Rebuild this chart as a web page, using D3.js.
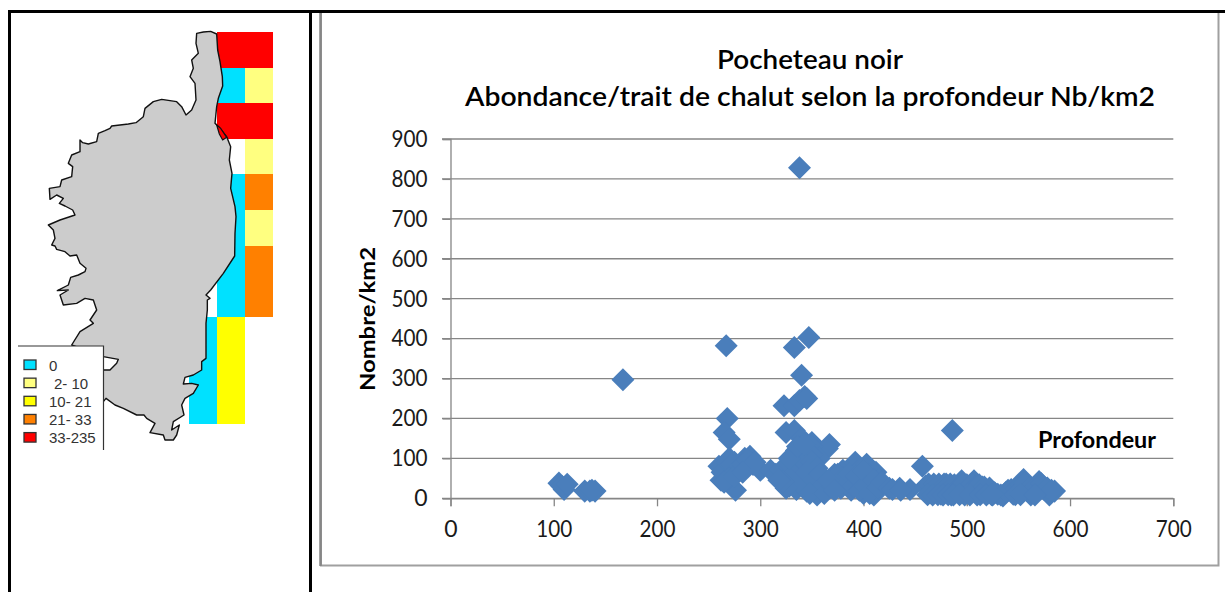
<!DOCTYPE html>
<html><head><meta charset="utf-8">
<style>html,body{margin:0;padding:0;background:#fff}svg{display:block}</style>
<script src="https://cdn.jsdelivr.net/npm/d3@7/dist/d3.min.js"></script>
</head><body><svg id="c" width="1225" height="592"></svg>
<script>
// ---------- data ----------
const titleLines = ["Pocheteau noir", "Abondance/trait de chalut selon la profondeur Nb/km2"];
const xLabel = "Profondeur";
const yLabel = "Nombre/km2";
const xTicks = [0,100,200,300,400,500,600,700];
const yTicks = [0,100,200,300,400,500,600,700,800,900];
const depth = [338,347,333,340,267,167,486,457,
 105,110,108,113,130,135,140,137,
 268,265,270,323,333,343,338,345,325,333,340,350,367,365,
 260,262,265,270,268,275,272,276,280,285,290,293,263,268,272,278,270,265,275,283,288,295,283,
 300,310,315,320,325,328,330,335,338,340,342,345,345,350,350,352,355,357,358,360,
 335,340,345,350,340,350,355,332,338,345,352,358,360,348,362,330,325,322,318,328,336,343,
 372,375,378,380,385,388,392,395,398,400,403,405,408,410,412,415,
 370,375,380,383,386,390,393,396,400,402,406,410,414,418,366,372,
 425,435,445,428,436,
 460,465,470,475,478,482,485,490,495,498,502,507,510,515,520,525,530,535,540,545,550,555,558,562,570,575,580,585,
 463,468,473,480,484,488,492,496,500,505,508,512,517,522,527,533,538,543,548,553,556,560,565,568,572,578,582,
 462,467,472,477,482,487,493,503,513,519,524,547,552,566];
const abundance = [828,403,378,308,382,297,170,80,
 38,22,30,35,18,18,18,20,
 200,165,148,232,232,255,245,250,165,170,150,140,135,125,
 80,45,60,100,75,90,60,20,80,100,105,85,65,90,85,75,50,40,55,85,95,90,65,
 70,70,60,70,50,30,80,22,70,110,50,90,18,130,60,30,8,100,45,20,
 120,130,120,110,95,90,75,60,40,65,45,60,30,12,12,45,25,40,45,100,130,135,
 60,40,25,70,45,20,90,70,40,12,85,60,35,8,65,45,
 30,60,50,35,60,30,55,20,70,30,12,45,25,40,45,20,
 25,25,22,22,20,
 30,14,30,10,36,30,8,20,44,8,20,44,8,28,12,8,10,6,20,10,32,47,20,8,42,22,8,18,
 36,36,36,36,36,34,30,34,34,36,28,34,28,26,14,8,15,22,24,32,38,26,26,32,37,26,20,
 9,8,9,8,9,8,9,8,9,8,9,9,9,8];
const legendLabels = ["0","2- 10","10- 21","21- 33","33-235"];
const classColors = ["#00e1ff","#ffff80","#ffff00","#ff8000","#ff0000"];
const gridRows = [0,1,2,3,4,5,6,7,8,9,10];
const gridCols = [0,1,2];
const cellRow = [0,0,1,1,2,2,3,4,4,5,5,6,6,7,7,8,8,9,9,10,10];
const cellCol = [1,2,1,2,1,2,2,1,2,1,2,1,2,1,2,0,1,0,1,0,1];
const cellClass = [4,4,0,1,4,4,1,0,3,0,1,0,3,0,3,0,2,0,2,0,2];
// island outline, in map units
const coast = [[590,100],[610,96],[632,94],[650,102],[653,150],[660,185],[667,230],[668,258],[655,295],[650,320],[645,370],[660,385],[680,410],[692,440],[688,480],[696,520],[692,565],[705,620],[708,650],[705,700],[704,768],[670,820],[632,870],[618,885],[630,895],
 [622,900],[622,930],[618,970],[618,1020],[618,1075],[605,1085],[605,1110],[580,1125],[555,1132],[550,1152],[575,1150],[595,1155],[580,1180],[555,1195],[545,1215],[552,1245],[520,1265],[515,1290],[538,1275],[530,1305],[520,1320],[495,1320],[490,1305],[450,1298],[465,1270],[440,1255],[432,1245],[410,1245],[370,1225],[345,1215],[318,1195],[310,1205],[300,1150],
 [310,1110],[330,1110],[350,1090],[355,1078],[310,1070],[215,1035],[240,995],[280,970],[270,960],[290,930],[280,900],[255,895],[230,910],[190,915],[180,885],[205,870],[172,872],
 [205,855],[212,832],[235,825],[255,815],[258,805],[240,790],[230,765],[210,768],[195,755],[170,748],[165,738],[155,735],[165,715],[160,690],[145,675],[180,660],[225,645],[218,630],[195,618],[178,610],[190,595],[170,585],[150,598],[148,565],[180,560],[185,540],[215,530],[218,500],[205,490],[215,465],[240,455],[240,420],[248,428],[265,432],[290,425],[295,400],[315,392],[330,385],[335,378],[360,375],[385,372],[408,368],[430,350],[435,325],[460,305],[485,298],[530,305],[545,320],[558,345],[575,330],[588,300],[585,250],[570,230],[580,205],[575,180],[595,160],[588,130]];
const lagoon = [[650,375],[662,385],[680,412],[668,420],[658,402]];

// ---------- setup ----------
const svg = d3.select("#c");
const font = "Lato, 'Open Sans', sans-serif";
const W = 1225, H = 592;

// frame
const frame = svg.append("g").attr("stroke","#000").attr("stroke-width",3);
frame.append("line").attr("x1",8).attr("x2",W).attr("y1",11.5).attr("y2",11.5);
frame.append("line").attr("x1",9.5).attr("x2",9.5).attr("y1",11).attr("y2",H);
frame.append("line").attr("x1",310.5).attr("x2",310.5).attr("y1",11).attr("y2",H);

// map cells
const rowBand = d3.scaleBand().domain(gridRows).range([32,423.5]);
const colBand = d3.scaleBand().domain(gridCols).range([189,273]);
const map = svg.append("g");
map.selectAll("rect").data(cellRow).join("rect")
  .attr("x",(d,i)=>colBand(cellCol[i])).attr("y",d=>rowBand(d))
  .attr("width",colBand.bandwidth()).attr("height",rowBand.bandwidth())
  .attr("shape-rendering","crispEdges")
  .attr("fill",(d,i)=>classColors[cellClass[i]]);

// island
const mx = d3.scaleLinear().domain([0,960]).range([0,320]);
const my = d3.scaleLinear().domain([0,1776]).range([0,592]);
const shape = d3.line().x(d=>mx(d[0])).y(d=>my(d[1])).curve(d3.curveLinearClosed);
map.append("path").attr("d",shape(coast)).attr("fill","#cccccc").attr("stroke","#111").attr("stroke-width",1.4).attr("stroke-linejoin","round");
map.append("path").attr("d",shape(lagoon)).attr("fill","#ff0000").attr("stroke","#111").attr("stroke-width",1.2);

// legend
const lg = svg.append("g");
lg.append("rect").attr("x",18).attr("y",346).attr("width",85).attr("height",104).attr("fill","#fff");
lg.append("path").attr("d","M18,346H103.5V450").attr("fill","none").attr("stroke","#333").attr("stroke-width",1.2);
const ly = d3.scaleLinear().domain([0,4]).range([364.7,437.3]);
legendLabels.forEach((t,i)=>{
  lg.append("rect").attr("x",24).attr("y",ly(i)-4.7).attr("width",12).attr("height",9.5)
    .attr("fill",classColors[i]).attr("stroke","#333").attr("stroke-width",1.3);
  lg.append("text").attr("x",i===1?54:49).attr("y",ly(i)+6)
    .attr("font-family","'Liberation Sans',Arial,sans-serif").attr("font-size",15).attr("fill","#333").text(t);
});

// chart box
svg.append("path").attr("d","M321,13V565.5H1218.5V13").attr("fill","none").attr("stroke","#a0a0a0").attr("stroke-width",2);
svg.append("line").attr("x1",320.5).attr("x2",320.5).attr("y1",13).attr("y2",566).attr("stroke","#868686").attr("stroke-width",2.5);

const x = d3.scaleLinear().domain([0,700]).range([450.5,1173.3]);
const y = d3.scaleLinear().domain([0,900]).range([498.3,139]);

// gridlines
svg.append("g").selectAll("line").data(yTicks).join("line")
  .attr("x1",442).attr("x2",x(700)).attr("y1",d=>y(d)).attr("y2",d=>y(d))
  .attr("stroke","#868686").attr("stroke-width",1.3);

// axes
const gx = svg.append("g").attr("transform",`translate(0,${y(0)})`)
  .call(d3.axisBottom(x).tickValues(xTicks).tickSize(8).tickPadding(14));
const gy = svg.append("g").attr("transform",`translate(${x(0)},0)`)
  .call(d3.axisLeft(y).tickValues(yTicks).tickSize(8).tickPadding(15));
[gx,gy].forEach(g=>{
  g.selectAll("path").attr("stroke","#868686").attr("stroke-width",1.3);
  g.selectAll("line").attr("stroke","#868686").attr("stroke-width",1.3);
  g.selectAll("text").attr("font-family",font).attr("font-size",23).attr("fill","#1a1a1a")
   .each(function(d){ if(d>0) d3.select(this).attr("textLength",36).attr("lengthAdjust","spacingAndGlyphs"); });
});

// points
const diamond = d3.symbol().type(d3.symbolSquare).size(265);
svg.append("g").selectAll("path").data(depth).join("path")
  .attr("d",diamond())
  .attr("transform",(d,i)=>`translate(${x(d)},${y(abundance[i])}) rotate(45)`)
  .attr("fill","#4a7ebb");

// titles
const tt = svg.append("g").attr("font-family",font).attr("font-weight",600).attr("fill","#000").attr("text-anchor","middle");
tt.append("text").attr("x",810).attr("y",69).attr("font-size",27).attr("textLength",186).attr("lengthAdjust","spacingAndGlyphs").text(titleLines[0]);
tt.append("text").attr("x",810).attr("y",106).attr("font-size",27).attr("textLength",690).attr("lengthAdjust","spacingAndGlyphs").text(titleLines[1]);
svg.append("text").attr("x",1097).attr("y",448).attr("text-anchor","middle").attr("font-family",font).attr("font-weight",700).attr("font-size",22).attr("textLength",118).attr("lengthAdjust","spacingAndGlyphs").text(xLabel);
svg.append("text").attr("transform","translate(375,319) rotate(-90)").attr("text-anchor","middle").attr("font-family",font).attr("font-weight",700).attr("font-size",21).attr("textLength",144).attr("lengthAdjust","spacingAndGlyphs").text(yLabel);
</script></body></html>
